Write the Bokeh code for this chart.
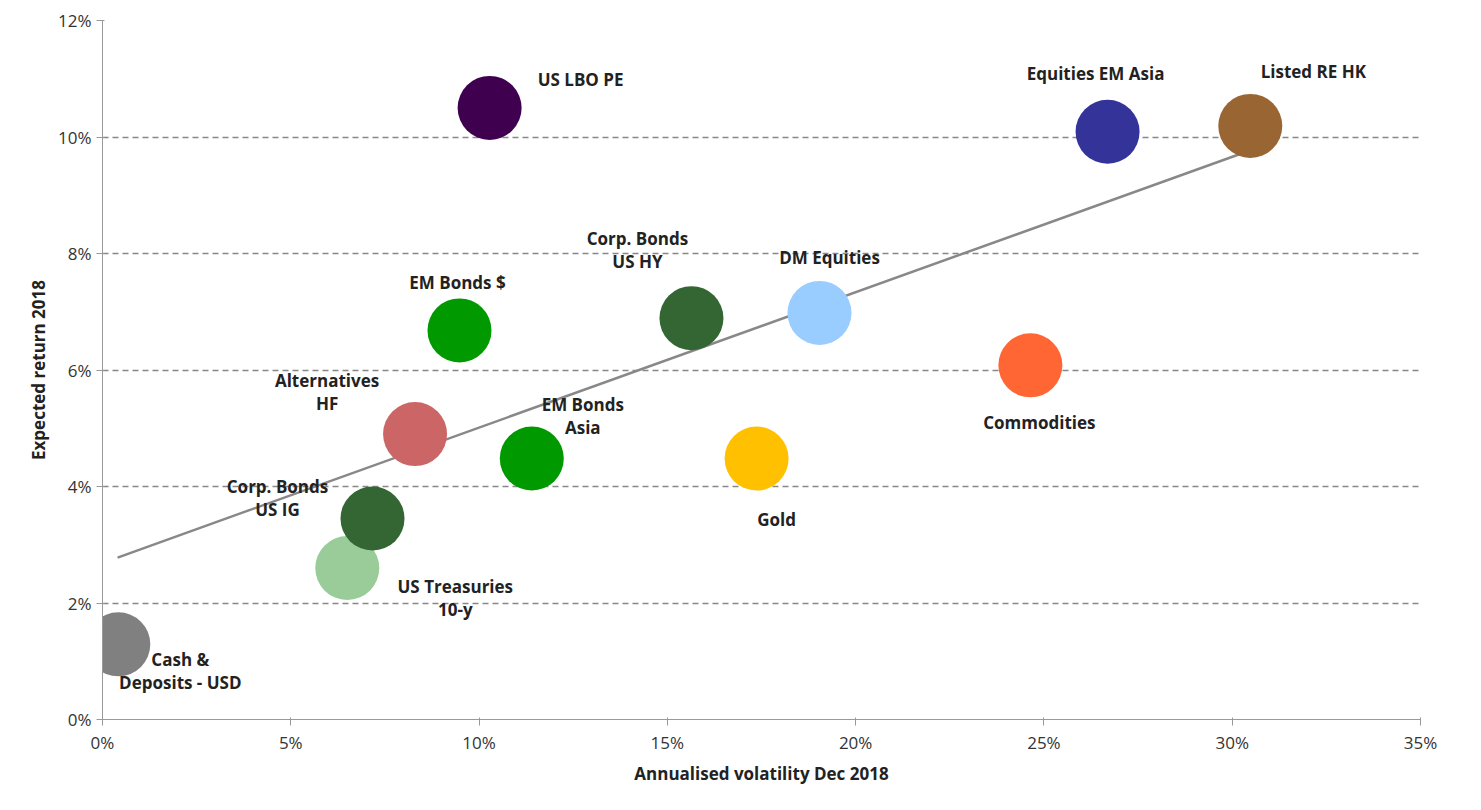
from bokeh.plotting import figure
from bokeh.models import ColumnDataSource, PrintfTickFormatter, FixedTicker
from bokeh.core.properties import value
from bokeh.embed import file_html
from bokeh.resources import INLINE

names = ["Cash &\nDeposits - USD", "US Treasuries\n10-y", "Corp. Bonds\nUS IG", "Alternatives\nHF",
         "EM Bonds\nAsia", "EM Bonds $", "US LBO PE", "Corp. Bonds\nUS HY", "DM Equities", "Gold",
         "Commodities", "Equities EM Asia", "Listed RE HK"]
vol = [0.42, 6.5, 7.17, 8.3, 11.4, 9.48, 10.28, 15.64, 19.04, 17.37, 24.64, 26.69, 30.48]
ret = [1.29, 2.6, 3.45, 4.9, 4.48, 6.68, 10.5, 6.89, 6.98, 4.48, 6.08, 10.09, 10.19]
colors = ["#808080", "#99CC99", "#336633", "#CC6666", "#009900", "#009900", "#400050",
          "#336633", "#99CCFF", "#FFC000", "#FF6633", "#333399", "#996633"]
dx = [62, 108, -95, -88, 51, -2, 91, -54, 10, 20, 9, -12, 63]
dy = [27, 30, -21, -42, -43, -48, -28, -68, -55, 61, 57, -58, -54]
trend_x = [0.4, 30.56]
trend_y = [2.78, 9.79]

src = ColumnDataSource(dict(x=vol, y=ret, c=colors, t=names, dx=dx, dy=dy))

p = figure(width=1448, height=802, output_backend="svg", toolbar_location=None,
           x_range=(0, 35), y_range=(0, 12), min_border_left=102, min_border_right=28,
           min_border_top=20, min_border_bottom=83)
p.outline_line_color = None
p.xgrid.grid_line_color = None
p.ygrid.grid_line_color = "#888888"
p.ygrid.grid_line_dash = "6 4"
p.ygrid.grid_line_width = 1.5
p.xaxis.ticker = FixedTicker(ticks=list(range(0, 36, 5)))
p.yaxis.ticker = FixedTicker(ticks=list(range(0, 13, 2)))
for ax in (p.xaxis, p.yaxis):
    ax.formatter = PrintfTickFormatter(format="%d%%")
    ax.axis_line_color = "#999999"
    ax.major_tick_line_color = "#999999"
    ax.minor_tick_line_color = None
    ax.major_label_text_font = "Open Sans"
    ax.major_label_text_font_size = "17px"
    ax.major_label_text_color = "#333333"
    ax.axis_label_text_font = "Open Sans"
    ax.axis_label_text_font_size = "17px"
    ax.axis_label_text_font_style = "bold"
    ax.axis_label_text_color = "#222222"
p.xaxis.axis_label = "Annualised volatility Dec 2018"
p.yaxis.axis_label = "Expected return 2018"

p.line(trend_x, trend_y, line_color="#888888", line_width=2.5)
p.scatter("x", "y", source=src, size=64, fill_color="c", line_color=None)
p.text("x", "y", text="t", source=src, x_offset="dx", y_offset="dy",
       text_align="center", text_baseline="middle", text_font=value("Open Sans"),
       text_font_size="17px", text_font_style="bold", text_color="#222222", text_line_height=1.0)

open("out.html", "w").write(file_html(p, INLINE))
